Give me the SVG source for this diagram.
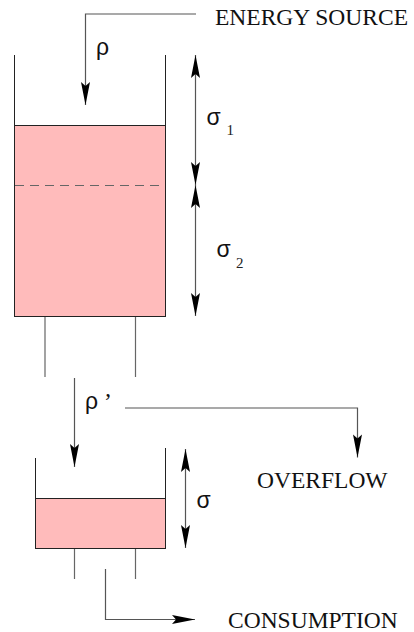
<svg xmlns="http://www.w3.org/2000/svg" width="414" height="632" viewBox="0 0 414 632">
  <style>
    .wall { fill: none; stroke: #222; stroke-width: 1; }
    .leg { fill: none; stroke: #666; stroke-width: 1.2; }
    .fluid { fill: #ffbbbb; stroke: #222; stroke-width: 1; }
    .level { fill: none; stroke: #666; stroke-width: 1.2; stroke-dasharray: 9 6; }
    .flow { fill: none; stroke: #555; stroke-width: 1.2; }
    .label { font-family: "Liberation Serif", "Times New Roman", serif; font-size: 23.5px; fill: #111; }
    .greek { font-family: "Liberation Sans", Arial, sans-serif; font-size: 23px; fill: #111; }
    .sub { font-family: "Liberation Serif", "Times New Roman", serif; font-size: 15px; fill: #222; }
  </style>
  <defs>
    <marker id="head" viewBox="-24 -5 25 10" refX="0" refY="0" markerWidth="25" markerHeight="10" markerUnits="userSpaceOnUse" orient="auto-start-reverse" overflow="visible">
      <path d="M0,0 L-23,-4.5 L-19,0 L-23,4.5 Z" fill="#000"/>
    </marker>
  </defs>

  <!-- upper reservoir -->
  <g id="reservoir">
    <rect class="fluid" x="14.5" y="125.5" width="151" height="191"/>
    <path class="wall" d="M14.5,55 V125.5 M165.5,55 V125.5"/>
    <line class="level" x1="15" y1="185.5" x2="165" y2="185.5"/>
    <path class="leg" d="M45,317 V377 M135.5,317 V377"/>
  </g>

  <!-- lower buffer tank -->
  <g id="buffer">
    <rect class="fluid" x="35.5" y="498.5" width="130" height="50"/>
    <path class="wall" d="M35.5,458 V498.5 M165.5,448 V498.5"/>
    <path class="leg" d="M74.5,549 V579 M135.5,549 V579"/>
  </g>

  <!-- flows and level dimensions -->
  <g id="connectors">
    <path class="flow" d="M196,14 H85.5 V105" marker-end="url(#head)"/>
    <line class="flow" x1="195.5" y1="55" x2="195.5" y2="185" marker-start="url(#head)" marker-end="url(#head)"/>
    <line class="flow" x1="195.5" y1="185" x2="195.5" y2="316" marker-start="url(#head)" marker-end="url(#head)"/>
    <line class="flow" x1="74.5" y1="378" x2="74.5" y2="467" marker-end="url(#head)"/>
    <path class="flow" d="M125,408 H357.5 V457.5" marker-end="url(#head)"/>
    <line class="flow" x1="185.5" y1="449" x2="185.5" y2="548" marker-start="url(#head)" marker-end="url(#head)"/>
    <path class="flow" d="M105.5,569 V619.5 H195" marker-end="url(#head)"/>
  </g>

  <!-- labels -->
  <g id="energy-source"><text class="label" x="215" y="25">ENERGY SOURCE</text></g>
  <g id="overflow"><text class="label" x="257" y="488">OVERFLOW</text></g>
  <g id="consumption"><text class="label" x="228" y="627.5">CONSUMPTION</text></g>
  <g id="rho"><text class="greek" x="96" y="55">ρ</text></g>
  <g id="rho-prime"><text class="greek" x="85" y="408.5">ρ<tspan class="label" font-size="20px" dx="6">’</tspan></text></g>
  <g id="sigma-1"><text class="greek" x="206.5" y="125">σ</text><text class="sub" x="226.5" y="135">1</text></g>
  <g id="sigma-2"><text class="greek" x="216.5" y="256.5">σ</text><text class="sub" x="236" y="268">2</text></g>
  <g id="sigma"><text class="greek" x="196.5" y="508">σ</text></g>
</svg>
